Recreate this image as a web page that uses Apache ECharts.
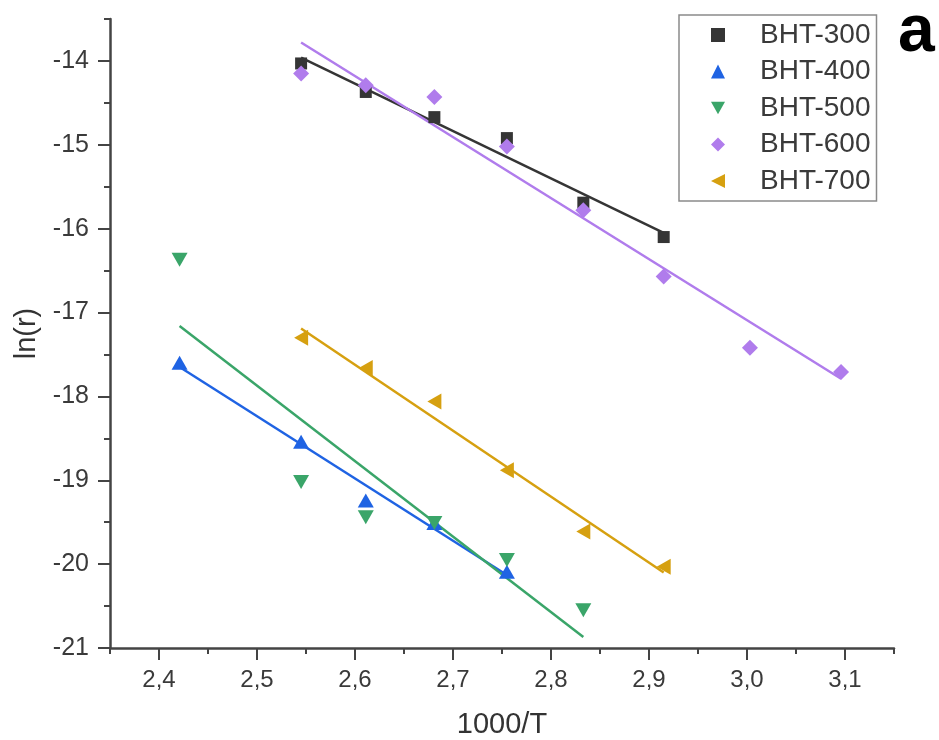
<!DOCTYPE html>
<html>
<head>
<meta charset="utf-8">
<script src="https://cdn.jsdelivr.net/npm/echarts@6/dist/echarts.min.js"></script>
<style>
html,body{margin:0;padding:0;background:#fff;}
#chart{width:939px;height:740px;}
</style>
</head>
<body>
<div id="chart"></div>
<script>
// ---- data ----
const seriesNames = ['BHT-300', 'BHT-400', 'BHT-500', 'BHT-600', 'BHT-700'];

const bht300X = [2.545, 2.611, 2.681, 2.755, 2.833, 2.915];
const bht300Y = [-14.03, -14.37, -14.67, -14.92, -15.69, -16.10];

const bht400X = [2.421, 2.545, 2.611, 2.681, 2.755];
const bht400Y = [-17.60, -18.54, -19.24, -19.51, -20.09];

const bht500X = [2.421, 2.545, 2.611, 2.681, 2.755, 2.833];
const bht500Y = [-16.37, -19.02, -19.44, -19.51, -19.95, -20.55];

const bht600X = [2.545, 2.611, 2.681, 2.755, 2.833, 2.915, 3.003, 3.096];
const bht600Y = [-14.15, -14.29, -14.43, -15.02, -15.78, -16.57, -17.42, -17.71];

const bht700X = [2.545, 2.611, 2.681, 2.755, 2.833, 2.915];
const bht700Y = [-17.30, -17.66, -18.06, -18.88, -19.61, -20.03];

// fitted lines (end points)
const fit300X = [2.545, 2.915]; const fit300Y = [-13.96, -16.05];
const fit400X = [2.421, 2.755]; const fit400Y = [-17.65, -20.13];
const fit500X = [2.421, 2.833]; const fit500Y = [-17.16, -20.87];
const fit600X = [2.545, 3.096]; const fit600Y = [-13.78, -17.79];
const fit700X = [2.545, 2.915]; const fit700Y = [-17.19, -20.10];

// axis ticks
const xTicks = [2.4, 2.5, 2.6, 2.7, 2.8, 2.9, 3.0, 3.1];
const xTickLabels = ['2,4', '2,5', '2,6', '2,7', '2,8', '2,9', '3,0', '3,1'];
const xMinorTicks = [2.35, 2.45, 2.55, 2.65, 2.75, 2.85, 2.95, 3.05, 3.15];
const yTicks = [-21, -20, -19, -18, -17, -16, -15, -14];
const yTickLabels = ['-21', '-20', '-19', '-18', '-17', '-16', '-15', '-14'];
const yMinorTicks = [-20.5, -19.5, -18.5, -17.5, -16.5, -15.5, -14.5, -13.5];

// ---- styles ----
const colors = ['#353535', '#1f63e3', '#3aa569', '#b07cec', '#d6a010'];
const symbols = [
  'rect',
  'triangle',
  'path://M0,0 L10,0 L5,9 Z',
  'diamond',
  'path://M10,0 L10,10 L0,5 Z'
];
const symbolSizes = [12, [16, 14], [16, 14], [16, 16], [14, 16]];
const FONT = '"Liberation Sans", Arial, sans-serif';
const AXIS_COLOR = '#444';

function pairs(xs, ys) { return xs.map((x, i) => [x, ys[i]]); }

const pointSets = [
  pairs(bht300X, bht300Y), pairs(bht400X, bht400Y), pairs(bht500X, bht500Y),
  pairs(bht600X, bht600Y), pairs(bht700X, bht700Y)
];
const fitSets = [
  pairs(fit300X, fit300Y), pairs(fit400X, fit400Y), pairs(fit500X, fit500Y),
  pairs(fit600X, fit600Y), pairs(fit700X, fit700Y)
];

const series = [];
fitSets.forEach((d, i) => {
  series.push({
    name: 'fit ' + seriesNames[i], type: 'line', data: d, showSymbol: false,
    symbol: 'none', silent: true, z: 2,
    lineStyle: { color: colors[i], width: 2.5 }
  });
});
pointSets.forEach((d, i) => {
  series.push({
    name: seriesNames[i], type: 'scatter', data: d, symbol: symbols[i],
    symbolSize: symbolSizes[i], z: 3,
    itemStyle: { color: colors[i], opacity: 1 }
  });
});

const chart = echarts.init(document.getElementById('chart'), null, { renderer: 'canvas' });
chart.setOption({
  animation: false,
  backgroundColor: '#fff',
  grid: { left: 110, right: 45, top: 19, bottom: 92, containLabel: false, outerBoundsMode: 'none' },
  legend: {
    data: seriesNames,
    orient: 'vertical',
    left: 679, top: 15,
    padding: [5, 6, 5, 32],
    itemWidth: 14, itemHeight: 14,
    itemGap: 6.5,
    borderColor: '#8a8a8a', borderWidth: 1.5,
    textStyle: { fontFamily: FONT, fontSize: 28, color: '#3a3a3a', lineHeight: 30, padding: [0, 0, 0, 30] }
  },
  xAxis: [{
    type: 'value', min: 2.35, max: 3.15, position: 'bottom',
    name: '1000/T', nameLocation: 'middle', nameGap: 62,
    nameTextStyle: { fontFamily: FONT, fontSize: 29, color: '#333' },
    axisLine: { show: true, lineStyle: { color: AXIS_COLOR, width: 2.5 } },
    axisTick: { show: true, inside: false, length: 12, customValues: xTicks, lineStyle: { color: AXIS_COLOR, width: 2 } },
    axisLabel: {
      show: true, customValues: xTicks, margin: 20,
      fontFamily: FONT, fontSize: 24, color: '#3a3a3a',
      formatter: v => { const k = xTicks.findIndex(t => Math.abs(t - v) < 1e-6); return k >= 0 ? xTickLabels[k] : ''; }
    },
    splitLine: { show: false }
  }, {
    type: 'value', min: 2.35, max: 3.15, position: 'bottom',
    axisLine: { show: false },
    axisTick: { show: true, inside: false, length: 6, customValues: xMinorTicks, lineStyle: { color: AXIS_COLOR, width: 2 } },
    axisLabel: { show: false },
    splitLine: { show: false }
  }],
  yAxis: [{
    type: 'value', min: -21, max: -13.5, position: 'left',
    name: 'ln(r)', nameLocation: 'middle', nameGap: 68, nameRotate: 90,
    nameTextStyle: { fontFamily: FONT, fontSize: 29, color: '#333' },
    axisLine: { show: true, lineStyle: { color: AXIS_COLOR, width: 2.5 } },
    axisTick: { show: true, inside: false, length: 12, customValues: yTicks, lineStyle: { color: AXIS_COLOR, width: 2 } },
    axisLabel: {
      show: true, customValues: yTicks, margin: 21,
      fontFamily: FONT, fontSize: 25, color: '#3a3a3a',
      formatter: v => { const k = yTicks.findIndex(t => Math.abs(t - v) < 1e-6); return k >= 0 ? yTickLabels[k] : ''; }
    },
    splitLine: { show: false }
  }, {
    type: 'value', min: -21, max: -13.5, position: 'left',
    axisLine: { show: false },
    axisTick: { show: true, inside: false, length: 6, customValues: yMinorTicks, lineStyle: { color: AXIS_COLOR, width: 2 } },
    axisLabel: { show: false },
    splitLine: { show: false }
  }],
  graphic: [{
    type: 'text', left: 898, top: 0, z: 10,
    style: { text: 'a', fontFamily: FONT, fontSize: 66, fontWeight: 'bold', fill: '#000' }
  }],
  series: series
});
</script>
</body>
</html>
